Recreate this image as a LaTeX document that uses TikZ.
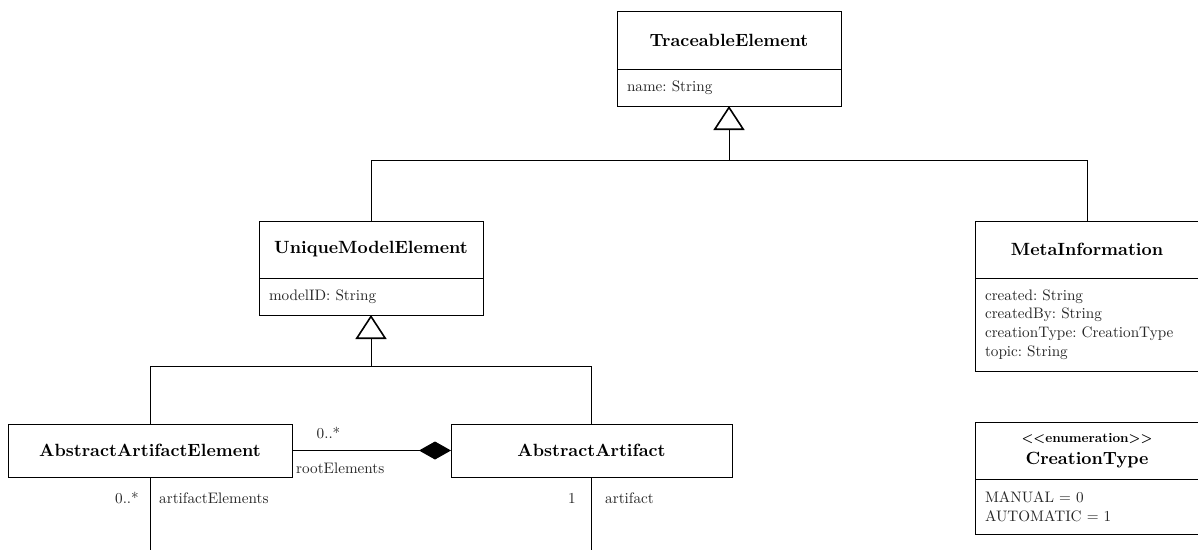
\documentclass[tikz,border=0pt]{standalone}
\usepackage{fontspec}
\usetikzlibrary{arrows.meta}

% Latin Modern at its 10pt design size, scaled up
\newfontfamily\lmten{lmroman10-regular.otf}[BoldFont=lmroman10-bold.otf, Ligatures=TeX]
\newcommand\clsTitleFont{\lmten\fontsize{17.7}{21}\selectfont\bfseries}
\newcommand\clsAttrFont{\lmten\fontsize{15.2}{18.8}\selectfont\frenchspacing}
\newcommand\clsStereoFont{\lmten\fontsize{13.3}{16}\selectfont\bfseries}
\definecolor{attrgray}{gray}{0.15}

\tikzset{
  classhead/.style={draw, line width=0.9pt, minimum width=224pt, inner sep=0pt,
    outer sep=0pt, font=\clsTitleFont, align=center},
  classbody/.style={draw, line width=0.9pt, text width=204pt, inner xsep=10pt,
    inner ysep=0pt, outer sep=0pt, font=\clsAttrFont, align=left, anchor=north,
    text=attrgray},
  conn/.style={line width=1pt},
  inherit/.style={conn, -{Triangle[open, length=24pt, width=31pt, line width=1.6pt]}},
  compose/.style={conn, -{Diamond[length=32pt, width=18pt]}},
  lbl/.style={font=\clsAttrFont, inner sep=0pt, text=attrgray},
}

\begin{document}
\begin{tikzpicture}[x=1pt,y=-1pt]
\useasboundingbox (0,0) rectangle (1198,549);
\fill[white] (0,0) rectangle (1198,549);
\clip (0,0) rectangle (1198,549);

% classes
\node[classhead, minimum height=58pt] (te) at (729,40) {TraceableElement};
\node[classbody, minimum height=37pt] (te-a) at (te.south) {name: String};

\node[classhead, minimum height=57pt] (ume) at (371,249.5) {UniqueModelElement};
\node[classbody, minimum height=37pt] (ume-a) at (ume.south) {modelID: String};

\node[classhead, minimum height=57pt] (mi) at (1087,249.5) {MetaInformation};
\node[classbody, minimum height=93pt] (mi-a) at (mi.south)
  {created: String\\createdBy: String\\creationType: CreationType\\topic: String};

\node[classhead, minimum height=57pt] (ct) at (1087,450.5)
  {{\clsStereoFont <\kern0pt<enumeration>\kern0pt>}\\[1pt]CreationType};
\node[classbody, minimum height=55pt] (ct-a) at (ct.south) {MANUAL = 0\\AUTOMATIC = 1};

\node[classhead, minimum width=284pt, minimum height=53pt] (aae) at (150,450.5)
  {AbstractArtifactElement};
\node[classhead, minimum width=281pt, minimum height=53pt] (aa) at (591.5,450.5)
  {AbstractArtifact};

% generalisations
\coordinate (j1) at (729,160.5);
\draw[conn] (ume.north) |- (j1) -| (mi.north);
\draw[inherit] (j1) -- (te-a.south);

\coordinate (j2) at (371,366.5);
\draw[conn] (aae.north) |- (j2) -| (aa.north);
\draw[inherit] (j2) -- (ume-a.south);

% composition
\draw[compose] (aae.east) -- (aa.west);
\node[lbl] (m1) at (328.5,433) {0..*};
\node[lbl, anchor=west] (r1) at (296,468) {rootElements};

% association leaving the bottom
\coordinate (b1) at (150,560);
\coordinate (b2) at (591.5,560);
\draw[conn] (aae.south) -- (b1);
\draw[conn] (aa.south) -- (b2);
\node[lbl, anchor=east] (m2) at (139,498) {0..*};
\node[lbl, anchor=west] (ae) at (159,498) {artifactElements};
\node[lbl, anchor=east] (m3) at (576,498) {1};
\node[lbl, anchor=west] (af) at (605,498) {artifact};
\end{tikzpicture}
\end{document}
